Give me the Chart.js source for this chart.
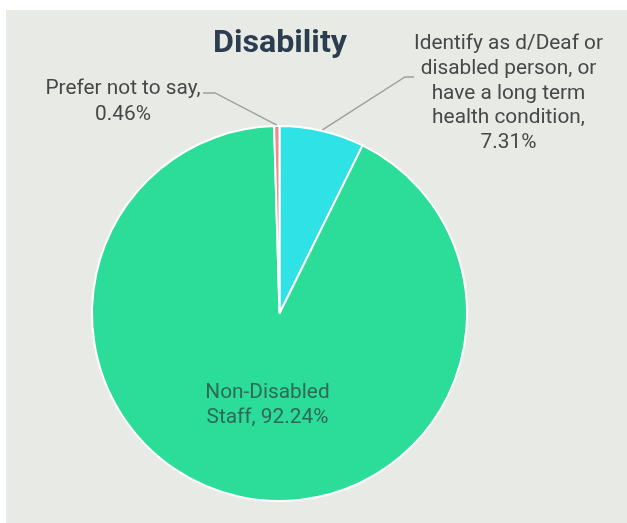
<!DOCTYPE html>
<html>
<head>
<meta charset="utf-8">
<script src="https://cdn.jsdelivr.net/npm/chart.js@4.4.1/dist/chart.umd.min.js"></script>
<style>
  html, body { margin: 0; padding: 0; background: #ffffff; }
  #wrap { position: absolute; left: 0; top: 0; width: 627px; height: 523px; }
</style>
</head>
<body>
<div id="wrap"><canvas id="c" width="627" height="523"></canvas></div>
<script>
// ---- data ----
const title = 'Disability';
const categories = [
  'Identify as d/Deaf or disabled person, or have a long term health condition',
  'Non-Disabled Staff',
  'Prefer not to say'
];
const values = [7.31, 92.24, 0.46];
const sliceColors = ['#2ee2e6', '#2bdd99', '#f08a8c'];
const labelLines = [
  ['Identify as d/Deaf or', 'disabled person, or', 'have a long term', 'health condition,', '7.31%'],
  ['Non-Disabled', 'Staff, 92.24%'],
  ['Prefer not to say,', '0.46%']
];

// ---- layout (styles / positions of annotations) ----
const labelLayout = [
  { x: 508.5, y: 49, gap: 24.8, color: '#474747', leader: [[405, 77], [414, 77]] },
  { x: 267.5, y: 398, gap: 25, color: '#2f6a54', leader: null },
  { x: 123, y: 94, gap: 26, color: '#474747', leader: [[215, 93], [203, 93]] }
];

function drawText(ctx, text, x, y, font, color, k) {
  ctx.save();
  ctx.font = font;
  ctx.fillStyle = color;
  ctx.textAlign = 'center';
  ctx.textBaseline = 'alphabetic';
  ctx.translate(x, y);
  ctx.scale(k, 1);
  ctx.fillText(text, 0, 0);
  ctx.restore();
}

const bgPlugin = {
  id: 'bg',
  beforeDraw(chart) {
    const ctx = chart.ctx;
    ctx.save();
    ctx.fillStyle = '#ffffff';
    ctx.fillRect(0, 0, chart.width, chart.height);
    ctx.fillStyle = '#e8ebe5';
    ctx.fillRect(6, 10, chart.width - 6, chart.height - 10);
    ctx.restore();
  }
};

const labelPlugin = {
  id: 'labels',
  afterDatasetsDraw(chart) {
    const ctx = chart.ctx;
    const meta = chart.getDatasetMeta(0);
    const labelFont = '21px Roboto';
    ctx.save();
    ctx.font = labelFont;
    const kLabel = 189 / ctx.measureText(labelLines[0][0]).width;
    ctx.font = 'bold 31px Roboto';
    const kTitle = 134 / ctx.measureText(title).width;
    ctx.restore();

    // title
    drawText(ctx, title, 280, 52, 'bold 31px Roboto', '#2b3d4f', kTitle);

    meta.data.forEach((arc, i) => {
      const p = arc.getProps(['x', 'y', 'startAngle', 'endAngle', 'outerRadius'], true);
      const L = labelLayout[i];
      if (L.leader) {
        const mid = (p.startAngle + p.endAngle) / 2;
        const sx = p.x + Math.cos(mid) * (p.outerRadius + 1);
        const sy = p.y + Math.sin(mid) * (p.outerRadius + 1);
        ctx.save();
        ctx.strokeStyle = '#9d9f9c';
        ctx.lineWidth = 1.4;
        ctx.beginPath();
        ctx.moveTo(sx, sy);
        L.leader.forEach(pt => ctx.lineTo(pt[0], pt[1]));
        ctx.stroke();
        ctx.restore();
      }
      labelLines[i].forEach((line, j) => {
        drawText(ctx, line, L.x, L.y + j * L.gap, labelFont, L.color, kLabel);
      });
    });
  }
};

new Chart(document.getElementById('c'), {
  type: 'pie',
  data: {
    labels: categories,
    datasets: [{
      data: values,
      backgroundColor: sliceColors,
      borderColor: '#ffffff',
      borderWidth: 2
    }]
  },
  options: {
    responsive: false,
    animation: false,
    layout: { padding: { left: 91, right: 159, top: 125, bottom: 21 } },
    plugins: {
      legend: { display: false },
      title: { display: false },
      tooltip: { enabled: false }
    }
  },
  plugins: [bgPlugin, labelPlugin]
});
</script>
</body>
</html>
